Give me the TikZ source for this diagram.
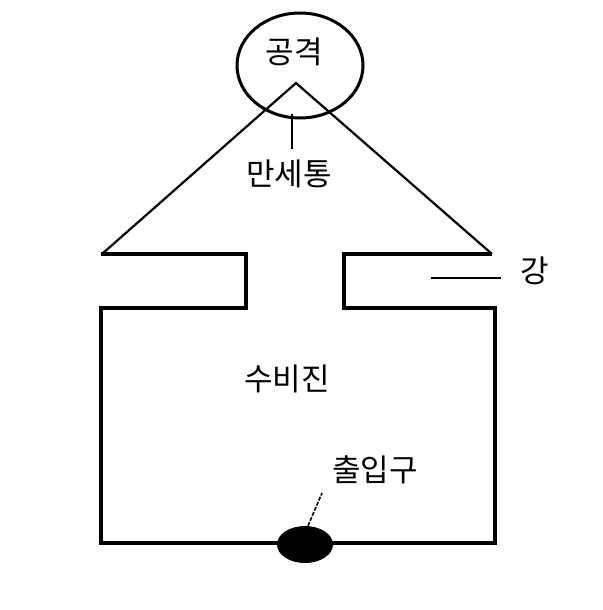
\documentclass[tikz,border=0pt]{standalone}
\usepackage{fontspec}
\usetikzlibrary{shapes.geometric}
\newfontfamily\kr{Noto Sans CJK KR}
\begin{document}
\begin{tikzpicture}[x=1pt,y=-1pt,
  wall/.style={line width=3.4pt,line join=miter},
  slope/.style={line width=2.2pt},
  lead/.style={line width=1.6pt},
  lbl/.style={font=\kr\fontsize{31}{31}\selectfont,inner sep=0pt}]
\useasboundingbox (0,0) rectangle (602,610);
% circle (attack)
\node[draw,line width=3pt,ellipse,minimum width=126pt,minimum height=105pt,inner sep=0pt] (circ) at (300,65.5) {};
\node[lbl] (gong) at (294,52) {공격};
% triangle slopes
\coordinate (apex) at (296,83);
\coordinate (ltip) at (102,254);
\coordinate (rtip) at (492,254);
\draw[slope] (ltip) -- (apex) -- (rtip);
% walls
\coordinate (l1) at (101,254);
\coordinate (l2) at (246,254);
\coordinate (l3) at (246,308);
\coordinate (l4) at (101,308);
\coordinate (bl) at (101,543);
\coordinate (br) at (495,543);
\coordinate (r4) at (495,308);
\coordinate (r3) at (344,308);
\coordinate (r2) at (344,254);
\coordinate (r1) at (492,254);
\draw[wall] (l1) -- (l2) -- (l3) -- (l4) -- (bl) -- (br) -- (r4) -- (r3) -- (r2) -- (r1);
% labels
\node[lbl] (mansae) at (289,174) {만세통};
\coordinate (mtop) at (292,114);
\draw[lead] (mtop) -- ([yshift=11pt]mansae.north -| mtop);
\node[lbl] (gang) at (535,271) {강};
\coordinate (gl) at (431,278);
\draw[lead] (gl) -- ([xshift=-20pt]gang.west |- gl);
\node[lbl] (subi) at (287,379) {수비진};
% entrance
\node[fill=black,ellipse,minimum width=56pt,minimum height=37pt,inner sep=0pt] (gate) at (305,544.5) {};
\node[lbl] (chul) at (375,470) {출입구};
\coordinate (ct) at (322,493);
\draw[lead,dash pattern=on 4pt off 1.5pt] ([xshift=3pt]gate.north) -- (ct);
\end{tikzpicture}
\end{document}
